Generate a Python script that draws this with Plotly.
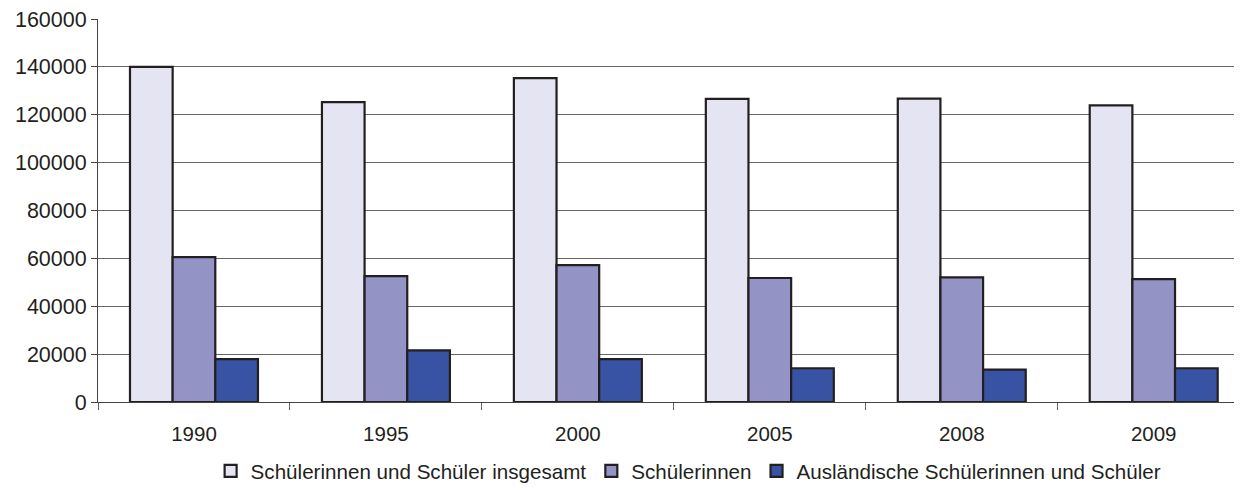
import plotly.graph_objects as go

# Data
years = ["1990", "1995", "2000", "2005", "2008", "2009"]
insgesamt = [140000, 125300, 135300, 126600, 126700, 123900]
schuelerinnen = [60500, 52600, 57200, 51800, 52100, 51300]
auslaendisch = [17900, 21600, 17900, 14100, 13500, 14100]

series = [
    ("Schülerinnen und Schüler insgesamt", insgesamt, "#e4e4f2"),
    ("Schülerinnen", schuelerinnen, "#9393c6"),
    ("Ausländische Schülerinnen und Schüler", auslaendisch, "#3953a4"),
]

fig = go.Figure()
for name, values, color in series:
    fig.add_trace(go.Bar(
        x=years, y=values, name=name,
        marker=dict(color=color, line=dict(color="#231f20", width=2.2)),
    ))

# page body adds an 8px offset, margins compensate for it
fig.update_layout(
    width=1242, height=493,
    barmode="group", bargap=1/3, bargroupgap=0,
    plot_bgcolor="white", paper_bgcolor="white",
    font=dict(family="Liberation Sans, Arial", size=20, color="#231f20"),
    margin=dict(l=90, r=8, t=11, b=99),
    showlegend=True,
    legend=dict(
        orientation="h", xref="container", yref="container",
        x=0.548, xanchor="center", y=0.061, yanchor="middle",
        font=dict(size=20.6), itemwidth=30, tracegroupgap=0,
    ),
)
fig.update_xaxes(
    type="category", range=[-0.5, 5.46],
    showline=True, linecolor="#444", linewidth=1,
    ticks="outside", tickson="boundaries", ticklen=7, tickcolor="#666",
    showgrid=False, ticklabelstandoff=13, automargin=False,
    tickfont=dict(size=20.5),
)
fig.update_yaxes(
    range=[0, 160000], dtick=20000,
    showline=True, linecolor="#444", linewidth=1,
    ticks="outside", ticklen=6, tickcolor="#444",
    gridcolor="#666", gridwidth=1, zeroline=False,
    tickformat="d", tickfont=dict(size=21.5), ticklabeloverflow="allow",
    automargin=False,
)

fig.write_html("out.html")
